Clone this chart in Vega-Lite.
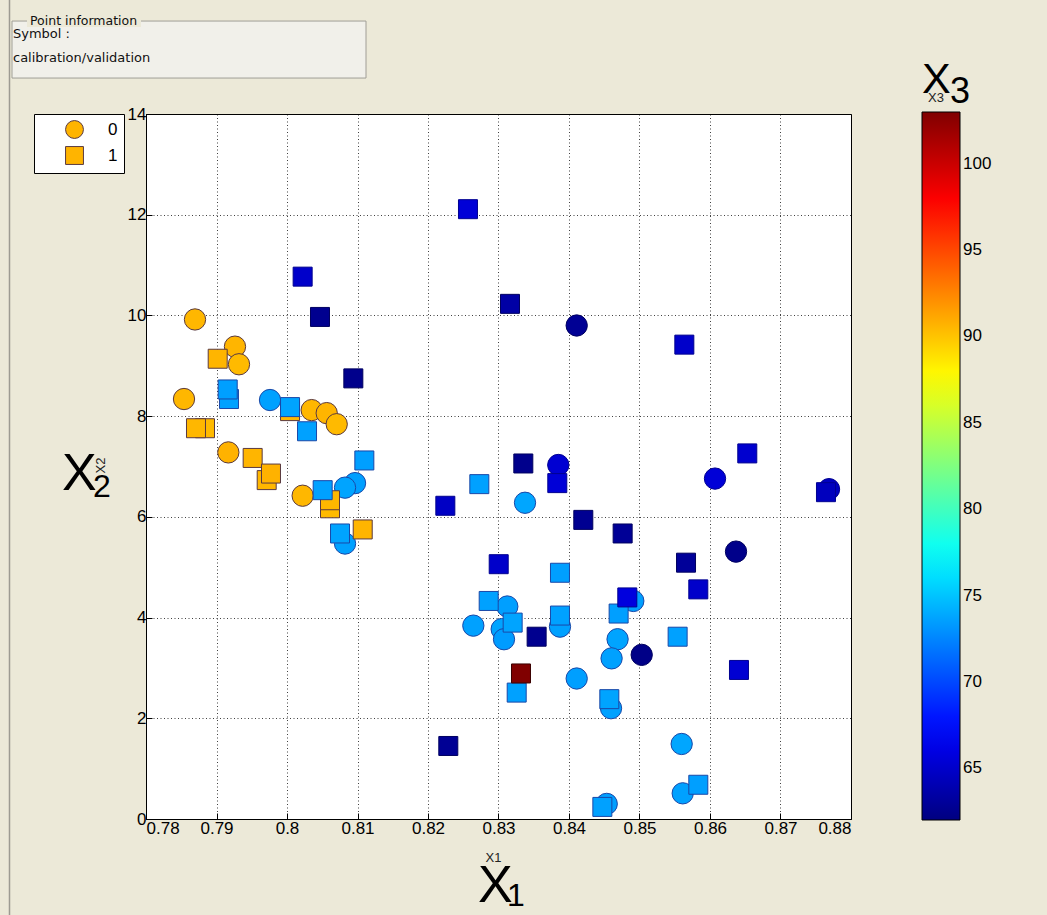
{
  "$schema": "https://vega.github.io/schema/vega-lite/v6.json",
  "width": 705,
  "height": 705,
  "autosize": {"type": "none"},
  "padding": {"left": 146, "top": 114, "right": 196, "bottom": 96},
  "background": "#ECE9D8",
  "config": {
    "view": {"fill": "white", "stroke": "black", "strokeWidth": 1},
    "font": "Liberation Sans, Arial, sans-serif",
    "axis": {
      "labelFont": "Liberation Sans",
      "labelFontSize": 17,
      "labelColor": "black",
      "domainColor": "black",
      "tickColor": "black",
      "grid": true,
      "gridColor": "black",
      "gridDash": [1, 2.5],
      "gridOpacity": 0.75,
      "titleFont": "Liberation Sans",
      "titleFontWeight": "normal",
      "titleColor": "#222222"
    }
  },
  "data": {
    "values": [
      {"x1": 0.78695, "x2": 9.92, "x3": 90.5, "set": "0"},
      {"x1": 0.79262, "x2": 9.38, "x3": 90.6, "set": "0"},
      {"x1": 0.79319, "x2": 9.03, "x3": 90.4, "set": "0"},
      {"x1": 0.78539, "x2": 8.34, "x3": 90.5, "set": "0"},
      {"x1": 0.79168, "x2": 7.28, "x3": 90.7, "set": "0"},
      {"x1": 0.80222, "x2": 6.42, "x3": 90.5, "set": "0"},
      {"x1": 0.79759, "x2": 8.32, "x3": 73.6, "set": "0"},
      {"x1": 0.80965, "x2": 6.67, "x3": 73.5, "set": "0"},
      {"x1": 0.80823, "x2": 6.58, "x3": 73.7, "set": "0"},
      {"x1": 0.80823, "x2": 5.47, "x3": 73.6, "set": "0"},
      {"x1": 0.83376, "x2": 6.28, "x3": 73.8, "set": "0"},
      {"x1": 0.83125, "x2": 4.22, "x3": 73.5, "set": "0"},
      {"x1": 0.82643, "x2": 3.84, "x3": 73.6, "set": "0"},
      {"x1": 0.83045, "x2": 3.77, "x3": 73.7, "set": "0"},
      {"x1": 0.83078, "x2": 3.57, "x3": 73.4, "set": "0"},
      {"x1": 0.83872, "x2": 3.82, "x3": 73.6, "set": "0"},
      {"x1": 0.84912, "x2": 4.33, "x3": 73.5, "set": "0"},
      {"x1": 0.84689, "x2": 3.57, "x3": 73.7, "set": "0"},
      {"x1": 0.84604, "x2": 3.19, "x3": 73.6, "set": "0"},
      {"x1": 0.84109, "x2": 2.79, "x3": 73.5, "set": "0"},
      {"x1": 0.84596, "x2": 2.20, "x3": 73.6, "set": "0"},
      {"x1": 0.85598, "x2": 1.49, "x3": 73.8, "set": "0"},
      {"x1": 0.85613, "x2": 0.51, "x3": 73.6, "set": "0"},
      {"x1": 0.84535, "x2": 0.30, "x3": 73.5, "set": "0"},
      {"x1": 0.84109, "x2": 9.80, "x3": 62.8, "set": "0"},
      {"x1": 0.86369, "x2": 5.31, "x3": 62.4, "set": "0"},
      {"x1": 0.85031, "x2": 3.26, "x3": 62.3, "set": "0"},
      {"x1": 0.83848, "x2": 7.03, "x3": 65.3, "set": "0"},
      {"x1": 0.86071, "x2": 6.76, "x3": 65.5, "set": "0"},
      {"x1": 0.87688, "x2": 6.55, "x3": 64.6, "set": "0"},
      {"x1": 0.80350, "x2": 8.12, "x3": 90.5, "set": "0"},
      {"x1": 0.80563, "x2": 8.06, "x3": 90.6, "set": "0"},
      {"x1": 0.80705, "x2": 7.84, "x3": 90.4, "set": "0"},
      {"x1": 0.79177, "x2": 8.34, "x3": 73.6, "set": "1"},
      {"x1": 0.79159, "x2": 8.53, "x3": 73.5, "set": "1"},
      {"x1": 0.79017, "x2": 9.14, "x3": 90.6, "set": "1"},
      {"x1": 0.78837, "x2": 7.76, "x3": 90.4, "set": "1"},
      {"x1": 0.78709, "x2": 7.76, "x3": 90.5, "set": "1"},
      {"x1": 0.79513, "x2": 7.17, "x3": 90.6, "set": "1"},
      {"x1": 0.79712, "x2": 6.73, "x3": 90.5, "set": "1"},
      {"x1": 0.79773, "x2": 6.86, "x3": 90.7, "set": "1"},
      {"x1": 0.80610, "x2": 6.17, "x3": 90.4, "set": "1"},
      {"x1": 0.80610, "x2": 6.33, "x3": 90.5, "set": "1"},
      {"x1": 0.81074, "x2": 5.75, "x3": 90.6, "set": "1"},
      {"x1": 0.80043, "x2": 8.10, "x3": 90.5, "set": "1"},
      {"x1": 0.80043, "x2": 8.18, "x3": 73.7, "set": "1"},
      {"x1": 0.80284, "x2": 7.70, "x3": 73.6, "set": "1"},
      {"x1": 0.81097, "x2": 7.12, "x3": 73.5, "set": "1"},
      {"x1": 0.80506, "x2": 6.53, "x3": 73.6, "set": "1"},
      {"x1": 0.80752, "x2": 5.67, "x3": 73.7, "set": "1"},
      {"x1": 0.82728, "x2": 6.65, "x3": 73.6, "set": "1"},
      {"x1": 0.83872, "x2": 4.89, "x3": 73.5, "set": "1"},
      {"x1": 0.82861, "x2": 4.33, "x3": 73.6, "set": "1"},
      {"x1": 0.83201, "x2": 3.90, "x3": 73.7, "set": "1"},
      {"x1": 0.83872, "x2": 4.04, "x3": 73.6, "set": "1"},
      {"x1": 0.84704, "x2": 4.08, "x3": 73.5, "set": "1"},
      {"x1": 0.83258, "x2": 2.51, "x3": 73.6, "set": "1"},
      {"x1": 0.84572, "x2": 2.38, "x3": 73.7, "set": "1"},
      {"x1": 0.85541, "x2": 3.62, "x3": 73.6, "set": "1"},
      {"x1": 0.85834, "x2": 0.68, "x3": 73.5, "set": "1"},
      {"x1": 0.84473, "x2": 0.24, "x3": 73.6, "set": "1"},
      {"x1": 0.80468, "x2": 9.97, "x3": 62.6, "set": "1"},
      {"x1": 0.80941, "x2": 8.75, "x3": 62.5, "set": "1"},
      {"x1": 0.83352, "x2": 7.06, "x3": 62.5, "set": "1"},
      {"x1": 0.84203, "x2": 5.94, "x3": 62.7, "set": "1"},
      {"x1": 0.84761, "x2": 5.67, "x3": 62.9, "set": "1"},
      {"x1": 0.83541, "x2": 3.62, "x3": 62.6, "set": "1"},
      {"x1": 0.82288, "x2": 1.45, "x3": 62.8, "set": "1"},
      {"x1": 0.85660, "x2": 5.09, "x3": 63.0, "set": "1"},
      {"x1": 0.82567, "x2": 12.11, "x3": 65.5, "set": "1"},
      {"x1": 0.80222, "x2": 10.77, "x3": 65.0, "set": "1"},
      {"x1": 0.83163, "x2": 10.23, "x3": 63.5, "set": "1"},
      {"x1": 0.85636, "x2": 9.42, "x3": 65.0, "set": "1"},
      {"x1": 0.82246, "x2": 6.22, "x3": 64.8, "set": "1"},
      {"x1": 0.83003, "x2": 5.06, "x3": 65.0, "set": "1"},
      {"x1": 0.83834, "x2": 6.67, "x3": 65.5, "set": "1"},
      {"x1": 0.84827, "x2": 4.40, "x3": 65.8, "set": "1"},
      {"x1": 0.85834, "x2": 4.56, "x3": 65.0, "set": "1"},
      {"x1": 0.86411, "x2": 2.96, "x3": 65.3, "set": "1"},
      {"x1": 0.86529, "x2": 7.26, "x3": 65.2, "set": "1"},
      {"x1": 0.87645, "x2": 6.49, "x3": 64.5, "set": "1"},
      {"x1": 0.83319, "x2": 2.89, "x3": 103.0, "set": "1"}
    ]
  },
  "layer": [
    {
      "data": {"values": [{}]},
      "mark": {"type": "rule", "color": "#9D9B92", "strokeWidth": 1.5},
      "encoding": {
        "x": {"datum": 0.760638, "type": "quantitative", "scale": {"domain": [0.78, 0.88], "nice": false, "zero": false}},
        "y": {"datum": 16.362, "type": "quantitative", "scale": {"domain": [0, 14], "nice": false, "zero": false}},
        "y2": {"datum": -2.006}
      }
    },
    {
      "data": {"values": [{}]},
      "mark": {"type": "rect", "fill": "#F1F0EA", "stroke": "#A09E96", "strokeWidth": 1},
      "encoding": {
        "x": {"datum": 0.760993, "type": "quantitative", "scale": {"domain": [0.78, 0.88], "nice": false, "zero": false}},
        "x2": {"datum": 0.811206},
        "y": {"datum": 15.846, "type": "quantitative", "scale": {"domain": [0, 14], "nice": false, "zero": false}},
        "y2": {"datum": 14.714}
      }
    },
    {
      "data": {"values": [{}]},
      "mark": {"type": "rect", "fill": "#ECE9D8"},
      "encoding": {
        "x": {"datum": 0.763121, "type": "quantitative", "scale": {"domain": [0.78, 0.88], "nice": false, "zero": false}},
        "x2": {"datum": 0.779291},
        "y": {"datum": 15.965, "type": "quantitative", "scale": {"domain": [0, 14], "nice": false, "zero": false}},
        "y2": {"datum": 15.727}
      }
    },
    {
      "data": {"values": [{}]},
      "mark": {"type": "text", "text": "Point information", "font": "DejaVu Sans", "fontSize": 12.5, "align": "left", "baseline": "alphabetic", "color": "#111111"},
      "encoding": {
        "x": {"datum": 0.763546, "type": "quantitative", "scale": {"domain": [0.78, 0.88], "nice": false, "zero": false}},
        "y": {"datum": 15.766, "type": "quantitative", "scale": {"domain": [0, 14], "nice": false, "zero": false}}
      }
    },
    {
      "data": {"values": [{}]},
      "mark": {"type": "text", "text": ["Symbol :", "calibration/validation"], "lineHeight": 24, "font": "DejaVu Sans", "fontSize": 13, "align": "left", "baseline": "alphabetic", "color": "#111111"},
      "encoding": {
        "x": {"datum": 0.761135, "type": "quantitative", "scale": {"domain": [0.78, 0.88], "nice": false, "zero": false}},
        "y": {"datum": 15.508, "type": "quantitative", "scale": {"domain": [0, 14], "nice": false, "zero": false}}
      }
    },
    {
      "mark": {"type": "point", "filled": true, "opacity": 1, "strokeWidth": 1},
      "encoding": {
        "x": {
          "field": "x1", "type": "quantitative",
          "scale": {"domain": [0.78, 0.88], "nice": false, "zero": false},
          "axis": {
            "values": [0.78, 0.79, 0.8, 0.81, 0.82, 0.83, 0.84, 0.85, 0.86, 0.87, 0.88],
            "format": "~g",
            "tickSize": -6,
            "labelPadding": 7,
            "title": "X1",
            "titleFontSize": 13,
            "titleX": 347,
            "titleY": 38,
            "titleBaseline": "middle",
            "titleAlign": "center"
          }
        },
        "y": {
          "field": "x2", "type": "quantitative",
          "scale": {"domain": [0, 14], "nice": false, "zero": false},
          "axis": {
            "values": [0, 2, 4, 6, 8, 10, 12, 14],
            "tickSize": -6,
            "labelPadding": 6,
            "title": "X2",
            "titleFontSize": 13,
            "titleAngle": 270,
            "titleX": -46,
            "titleY": 351,
            "titleBaseline": "middle",
            "titleAlign": "center"
          }
        },
        "shape": {
          "field": "set", "type": "nominal",
          "scale": {"range": ["circle", "square"]},
          "legend": {
            "title": null,
            "orient": "none",
            "legendX": -112,
            "legendY": 0,
            "fillColor": "white",
            "strokeColor": "black",
            "padding": 6,
            "rowPadding": 3,
            "symbolOffset": 25,
            "labelOffset": 24,
            "symbolSize": 320,
            "symbolFillColor": "#FFB400",
            "symbolStrokeColor": "#5A3A40",
            "symbolStrokeWidth": 1,
            "labelFont": "Liberation Sans",
            "labelFontSize": 17,
            "labelColor": "black"
          }
        },
        "size": {
          "condition": {"test": "datum.set === '1'", "value": 361},
          "value": 454
        },
        "stroke": {
          "condition": [
            {"test": "datum.x3 > 95", "value": "#3a0000"},
            {"test": "datum.x3 > 80", "value": "#5A3A40"},
            {"test": "datum.x3 > 68", "value": "#1A48A8"},
            {"test": "datum.x3 > 64", "value": "#000090"}
          ],
          "value": "#000060"
        },
        "fill": {
          "field": "x3", "type": "quantitative",
          "scale": {
            "domain": [62, 67.125, 77.375, 87.625, 97.875, 103],
            "range": ["#000080", "#0000ff", "#00ffff", "#ffff00", "#ff0000", "#800000"],
            "interpolate": "rgb"
          },
          "legend": {
            "type": "gradient",
            "title": null,
            "orient": "none",
            "legendX": 776,
            "legendY": -2,
            "direction": "vertical",
            "padding": 0,
            "gradientLength": 708,
            "gradientThickness": 38,
            "gradientStrokeColor": "black",
            "gradientStrokeWidth": 1,
            "values": [65, 70, 75, 80, 85, 90, 95, 100],
            "labelOverlap": false,
            "labelOffset": 3,
            "labelFont": "Liberation Sans",
            "labelFontSize": 17,
            "labelColor": "black"
          }
        }
      }
    },
    {
      "data": {"values": [{}]},
      "mark": {"type": "text", "text": "X", "fontSize": 52, "align": "left", "baseline": "alphabetic", "color": "black"},
      "encoding": {
        "x": {"datum": 0.827092, "type": "quantitative", "scale": {"domain": [0.78, 0.88], "nice": false, "zero": false}},
        "y": {"datum": -1.6481, "type": "quantitative", "scale": {"domain": [0, 14], "nice": false, "zero": false}}
      }
    },
    {
      "data": {"values": [{}]},
      "mark": {"type": "text", "text": "1", "fontSize": 32, "align": "left", "baseline": "alphabetic", "color": "black"},
      "encoding": {
        "x": {"datum": 0.831206, "type": "quantitative", "scale": {"domain": [0.78, 0.88], "nice": false, "zero": false}},
        "y": {"datum": -1.7276, "type": "quantitative", "scale": {"domain": [0, 14], "nice": false, "zero": false}}
      }
    },
    {
      "data": {"values": [{}]},
      "mark": {"type": "text", "text": "X", "fontSize": 52, "align": "left", "baseline": "alphabetic", "color": "black"},
      "encoding": {
        "x": {"datum": 0.768085, "type": "quantitative", "scale": {"domain": [0.78, 0.88], "nice": false, "zero": false}},
        "y": {"datum": 6.533, "type": "quantitative", "scale": {"domain": [0, 14], "nice": false, "zero": false}}
      }
    },
    {
      "data": {"values": [{}]},
      "mark": {"type": "text", "text": "2", "fontSize": 32, "align": "left", "baseline": "alphabetic", "color": "black"},
      "encoding": {
        "x": {"datum": 0.772482, "type": "quantitative", "scale": {"domain": [0.78, 0.88], "nice": false, "zero": false}},
        "y": {"datum": 6.394, "type": "quantitative", "scale": {"domain": [0, 14], "nice": false, "zero": false}}
      }
    },
    {
      "data": {"values": [{}]},
      "mark": {"type": "text", "text": "X3", "fontSize": 13, "align": "left", "baseline": "alphabetic", "color": "#222222"},
      "encoding": {
        "x": {"datum": 0.890922, "type": "quantitative", "scale": {"domain": [0.78, 0.88], "nice": false, "zero": false}},
        "y": {"datum": 14.2375, "type": "quantitative", "scale": {"domain": [0, 14], "nice": false, "zero": false}}
      }
    },
    {
      "data": {"values": [{}]},
      "mark": {"type": "text", "text": "X", "fontSize": 43, "align": "left", "baseline": "alphabetic", "color": "black"},
      "encoding": {
        "x": {"datum": 0.890071, "type": "quantitative", "scale": {"domain": [0.78, 0.88], "nice": false, "zero": false}},
        "y": {"datum": 14.4162, "type": "quantitative", "scale": {"domain": [0, 14], "nice": false, "zero": false}}
      }
    },
    {
      "data": {"values": [{}]},
      "mark": {"type": "text", "text": "3", "fontSize": 36, "align": "left", "baseline": "alphabetic", "color": "black"},
      "encoding": {
        "x": {"datum": 0.894043, "type": "quantitative", "scale": {"domain": [0.78, 0.88], "nice": false, "zero": false}},
        "y": {"datum": 14.2176, "type": "quantitative", "scale": {"domain": [0, 14], "nice": false, "zero": false}}
      }
    }
  ]
}
